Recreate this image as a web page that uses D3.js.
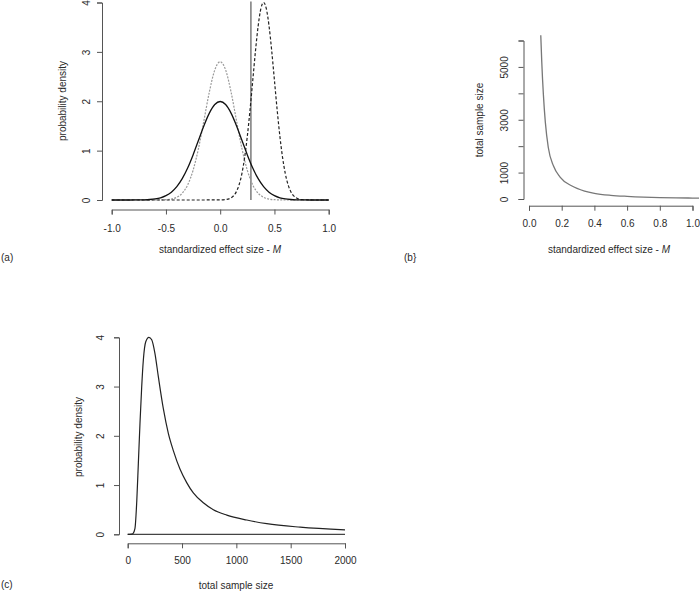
<!DOCTYPE html>
<html>
<head>
<meta charset="utf-8">
<script src="https://cdn.jsdelivr.net/npm/d3@7"></script>
<style>
  html, body { margin: 0; padding: 0; background: #fff; }
  svg { display: block; font-family: "Liberation Sans", Arial, Helvetica, sans-serif; }
  text { fill: #2a2a2a; font-size: 10px; }
</style>
</head>
<body>
<svg id="chart" width="700" height="591"></svg>
<script>
// ---------- Panel (a): densities of the standardized effect size M ----------
const aX = [-1.0,-0.95,-0.9,-0.85,-0.8,-0.75,-0.7,-0.65,-0.6,-0.55,-0.5,-0.45,-0.4,-0.35,-0.3,-0.25,-0.2,-0.15,-0.1,-0.05,
            0.0,0.05,0.1,0.15,0.2,0.25,0.3,0.35,0.4,0.45,0.5,0.55,0.6,0.65,0.7,0.75,0.8,0.85,0.9,0.95,1.0];
const aSolid = [0,0,0,0,0.001,0.002,0.004,0.010,0.022,0.045,0.088,0.159,0.270,0.432,0.648,0.913,1.210,1.506,1.760,1.933,
                1.995,1.933,1.760,1.506,1.210,0.913,0.648,0.432,0.270,0.159,0.088,0.045,0.022,0.010,0.004,0.002,0.001,0,0,0,0];
const aGray  = [0,0,0,0,0,0,0,0,0,0.002,0.006,0.019,0.055,0.137,0.305,0.601,1.046,1.609,2.189,2.633,
                2.80,2.633,2.189,1.609,1.046,0.601,0.305,0.137,0.055,0.019,0.006,0.002,0,0,0,0,0,0,0,0,0];
const aDashX = [-1.0,-0.5,0.0,0.05,0.1,0.15,0.175,0.2,0.225,0.25,0.275,0.3,0.325,0.35,0.375,0.4,
                0.425,0.45,0.475,0.5,0.525,0.55,0.575,0.6,0.625,0.65,0.7,0.75,0.8,1.0];
const aDash  = [0,0,0.001,0.008,0.044,0.173,0.314,0.536,0.858,1.292,1.824,2.420,3.015,3.528,3.876,4.0,
                3.876,3.528,3.015,2.420,1.824,1.292,0.858,0.536,0.314,0.173,0.044,0.008,0.001,0];
const aVLine = 0.283;
const aXTicks = [-1.0,-0.5,0.0,0.5,1.0];
const aYTicks = [0,1,2,3,4];

// ---------- Panel (b): total sample size vs M ----------
const bM = [0.072,0.078,0.088,0.10,0.118,0.15,0.19,0.26,0.34,0.40,0.50,0.60,0.70,0.80,0.90,1.00,1.04];
const bN = [6200,5200,3950,2900,1950,1250,830,500,300,215,140,100,72,55,44,36,33];
const bXTicks = [0,0.2,0.4,0.6,0.8,1.0];
const bYTicks = [0,1000,2000,3000,4000,5000,6000];
const bYLabelled = [0,1000,3000,5000];

// ---------- Panel (c): density of the total sample size ----------
const cN = [0,20,35,50,67,83,98,113,129,144,166,195,221,251,282,328,374,420,482,543,604,696,788,912,1096,1280,1587,2000];
const cD = [0,0,0.003,0.02,0.12,0.65,1.44,2.25,3.0,3.54,3.91,4.0,3.95,3.67,3.2,2.55,2.05,1.7,1.32,1.05,0.84,0.64,0.50,0.39,0.29,0.215,0.145,0.09];
const cXTicks = [0,500,1000,1500,2000];
const cYTicks = [0,1,2,3,4];

const svg = d3.select("#chart");
const axisColor = "#555";

function styleAxis(g) {
  g.selectAll("path.domain").attr("stroke", axisColor).attr("stroke-width", 1);
  g.selectAll(".tick line").attr("stroke", axisColor).attr("stroke-width", 1);
  g.selectAll(".tick text").attr("fill", "#2a2a2a")
    .attr("font-family", '"Liberation Sans", Arial, sans-serif').attr("font-size", 10);
}

function drawAxes(opt) {
  const {x, y, xTicks, yTicks, axisY, axisX, xLabY, yLabOff, tickFmtX, tickFmtY} = opt;
  const gx = svg.append("g").attr("transform", `translate(0,${axisY})`)
    .call(d3.axisBottom(x).tickValues(xTicks).tickSizeOuter(0).tickSize(5).tickPadding(0).tickFormat(tickFmtX));
  styleAxis(gx);
  gx.selectAll(".tick text").attr("y", xLabY - axisY).attr("dy", "0.35em");
  const gy = svg.append("g").attr("transform", `translate(${axisX},0)`)
    .call(d3.axisLeft(y).tickValues(yTicks).tickSizeOuter(0).tickSize(5).tickFormat(tickFmtY));
  styleAxis(gy);
  gy.selectAll(".tick text")
    .attr("transform", "rotate(-90)")
    .attr("text-anchor", "middle")
    .attr("x", 0).attr("y", yLabOff).attr("dy", "0.35em");
}

function rotLabel(x, y, txt) {
  svg.append("text").attr("transform", `translate(${x},${y}) rotate(-90)`)
    .attr("text-anchor", "middle").attr("dy", "0.35em").text(txt);
}
function xTitle(x, y, italicM, txt) {
  const t = svg.append("text").attr("x", x).attr("y", y).attr("text-anchor", "middle").attr("dy", "0.35em");
  t.append("tspan").text(txt);
  if (italicM) t.append("tspan").attr("font-style", "italic").text("M");
}
const fmt1 = d => d.toFixed(1);   // plain hyphen-minus like the original
const fmt0 = d => String(d);

// ===== Panel (a) =====
{
  const x = d3.scaleLinear().domain([-1, 1]).range([111.7, 328.7]);
  const y = d3.scaleLinear().domain([0, 4]).range([200, 2.5]);
  drawAxes({x, y, xTicks: aXTicks, yTicks: aYTicks, axisY: 209.5, axisX: 102, xLabY: 228, yLabOff: -16,
            tickFmtX: fmt1, tickFmtY: fmt0});
  const line = d3.line().curve(d3.curveMonotoneX);
  svg.append("line").attr("x1", x(aVLine)).attr("x2", x(aVLine)).attr("y1", y(0)).attr("y2", y(4.02))
    .attr("stroke", "#7a7a7a").attr("stroke-width", 1.5);
  svg.append("path").attr("d", line(aX.map((v, i) => [x(v), y(aGray[i])])))
    .attr("fill", "none").attr("stroke", "#9a9a9a").attr("stroke-width", 1.2).attr("stroke-dasharray", "2,1.3");
  svg.append("path").attr("d", line(aDashX.map((v, i) => [x(v), y(aDash[i])])))
    .attr("fill", "none").attr("stroke", "#222").attr("stroke-width", 1.2).attr("stroke-dasharray", "3,2");
  svg.append("path").attr("d", line(aX.map((v, i) => [x(v), y(aSolid[i])])))
    .attr("fill", "none").attr("stroke", "#111").attr("stroke-width", 1.3);
  rotLabel(62, 101, "probability density");
  xTitle(220, 249, true, "standardized effect size - ");
  svg.append("text").attr("x", 1).attr("y", 257).attr("dy", "0.35em").attr("font-size", 11.5).text("(a)");
}

// ===== Panel (b) =====
{
  const x = d3.scaleLinear().domain([0, 1]).range([529, 692.5]);
  const y = d3.scaleLinear().domain([0, 6000]).range([199, 40.5]);
  drawAxes({x, y, xTicks: bXTicks, yTicks: bYTicks, axisY: 205.7, axisX: 523.5, xLabY: 224, yLabOff: -19.5,
            tickFmtX: fmt1, tickFmtY: d => bYLabelled.includes(d) ? String(d) : ""});
  const line = d3.line().curve(d3.curveMonotoneX);
  svg.append("path").attr("d", line(bM.map((v, i) => [x(v), y(bN[i])])))
    .attr("fill", "none").attr("stroke", "#777").attr("stroke-width", 1.3);
  rotLabel(479, 120, "total sample size");
  xTitle(609, 249, true, "standardized effect size - ");
  svg.append("text").attr("x", 404).attr("y", 257).attr("dy", "0.35em").attr("font-size", 11.5).text("(b}");
}

// ===== Panel (c) =====
{
  const x = d3.scaleLinear().domain([0, 2000]).range([127.7, 345]);
  const y = d3.scaleLinear().domain([0, 4]).range([534.3, 337.3]);
  drawAxes({x, y, xTicks: cXTicks, yTicks: cYTicks, axisY: 543.3, axisX: 119, xLabY: 561, yLabOff: -19,
            tickFmtX: fmt0, tickFmtY: fmt0});
  svg.append("line").attr("x1", x(0)).attr("x2", x(2000)).attr("y1", y(0)).attr("y2", y(0))
    .attr("stroke", "#444").attr("stroke-width", 1.2);
  const line = d3.line().curve(d3.curveMonotoneX);
  svg.append("path").attr("d", line(cN.map((v, i) => [x(v), y(cD[i])])))
    .attr("fill", "none").attr("stroke", "#222").attr("stroke-width", 1.2);
  rotLabel(78, 437, "probability density");
  xTitle(236, 585, false, "total sample size");
  svg.append("text").attr("x", 1).attr("y", 584).attr("dy", "0.35em").attr("font-size", 11.5).text("(c)");
}
</script>
</body>
</html>
